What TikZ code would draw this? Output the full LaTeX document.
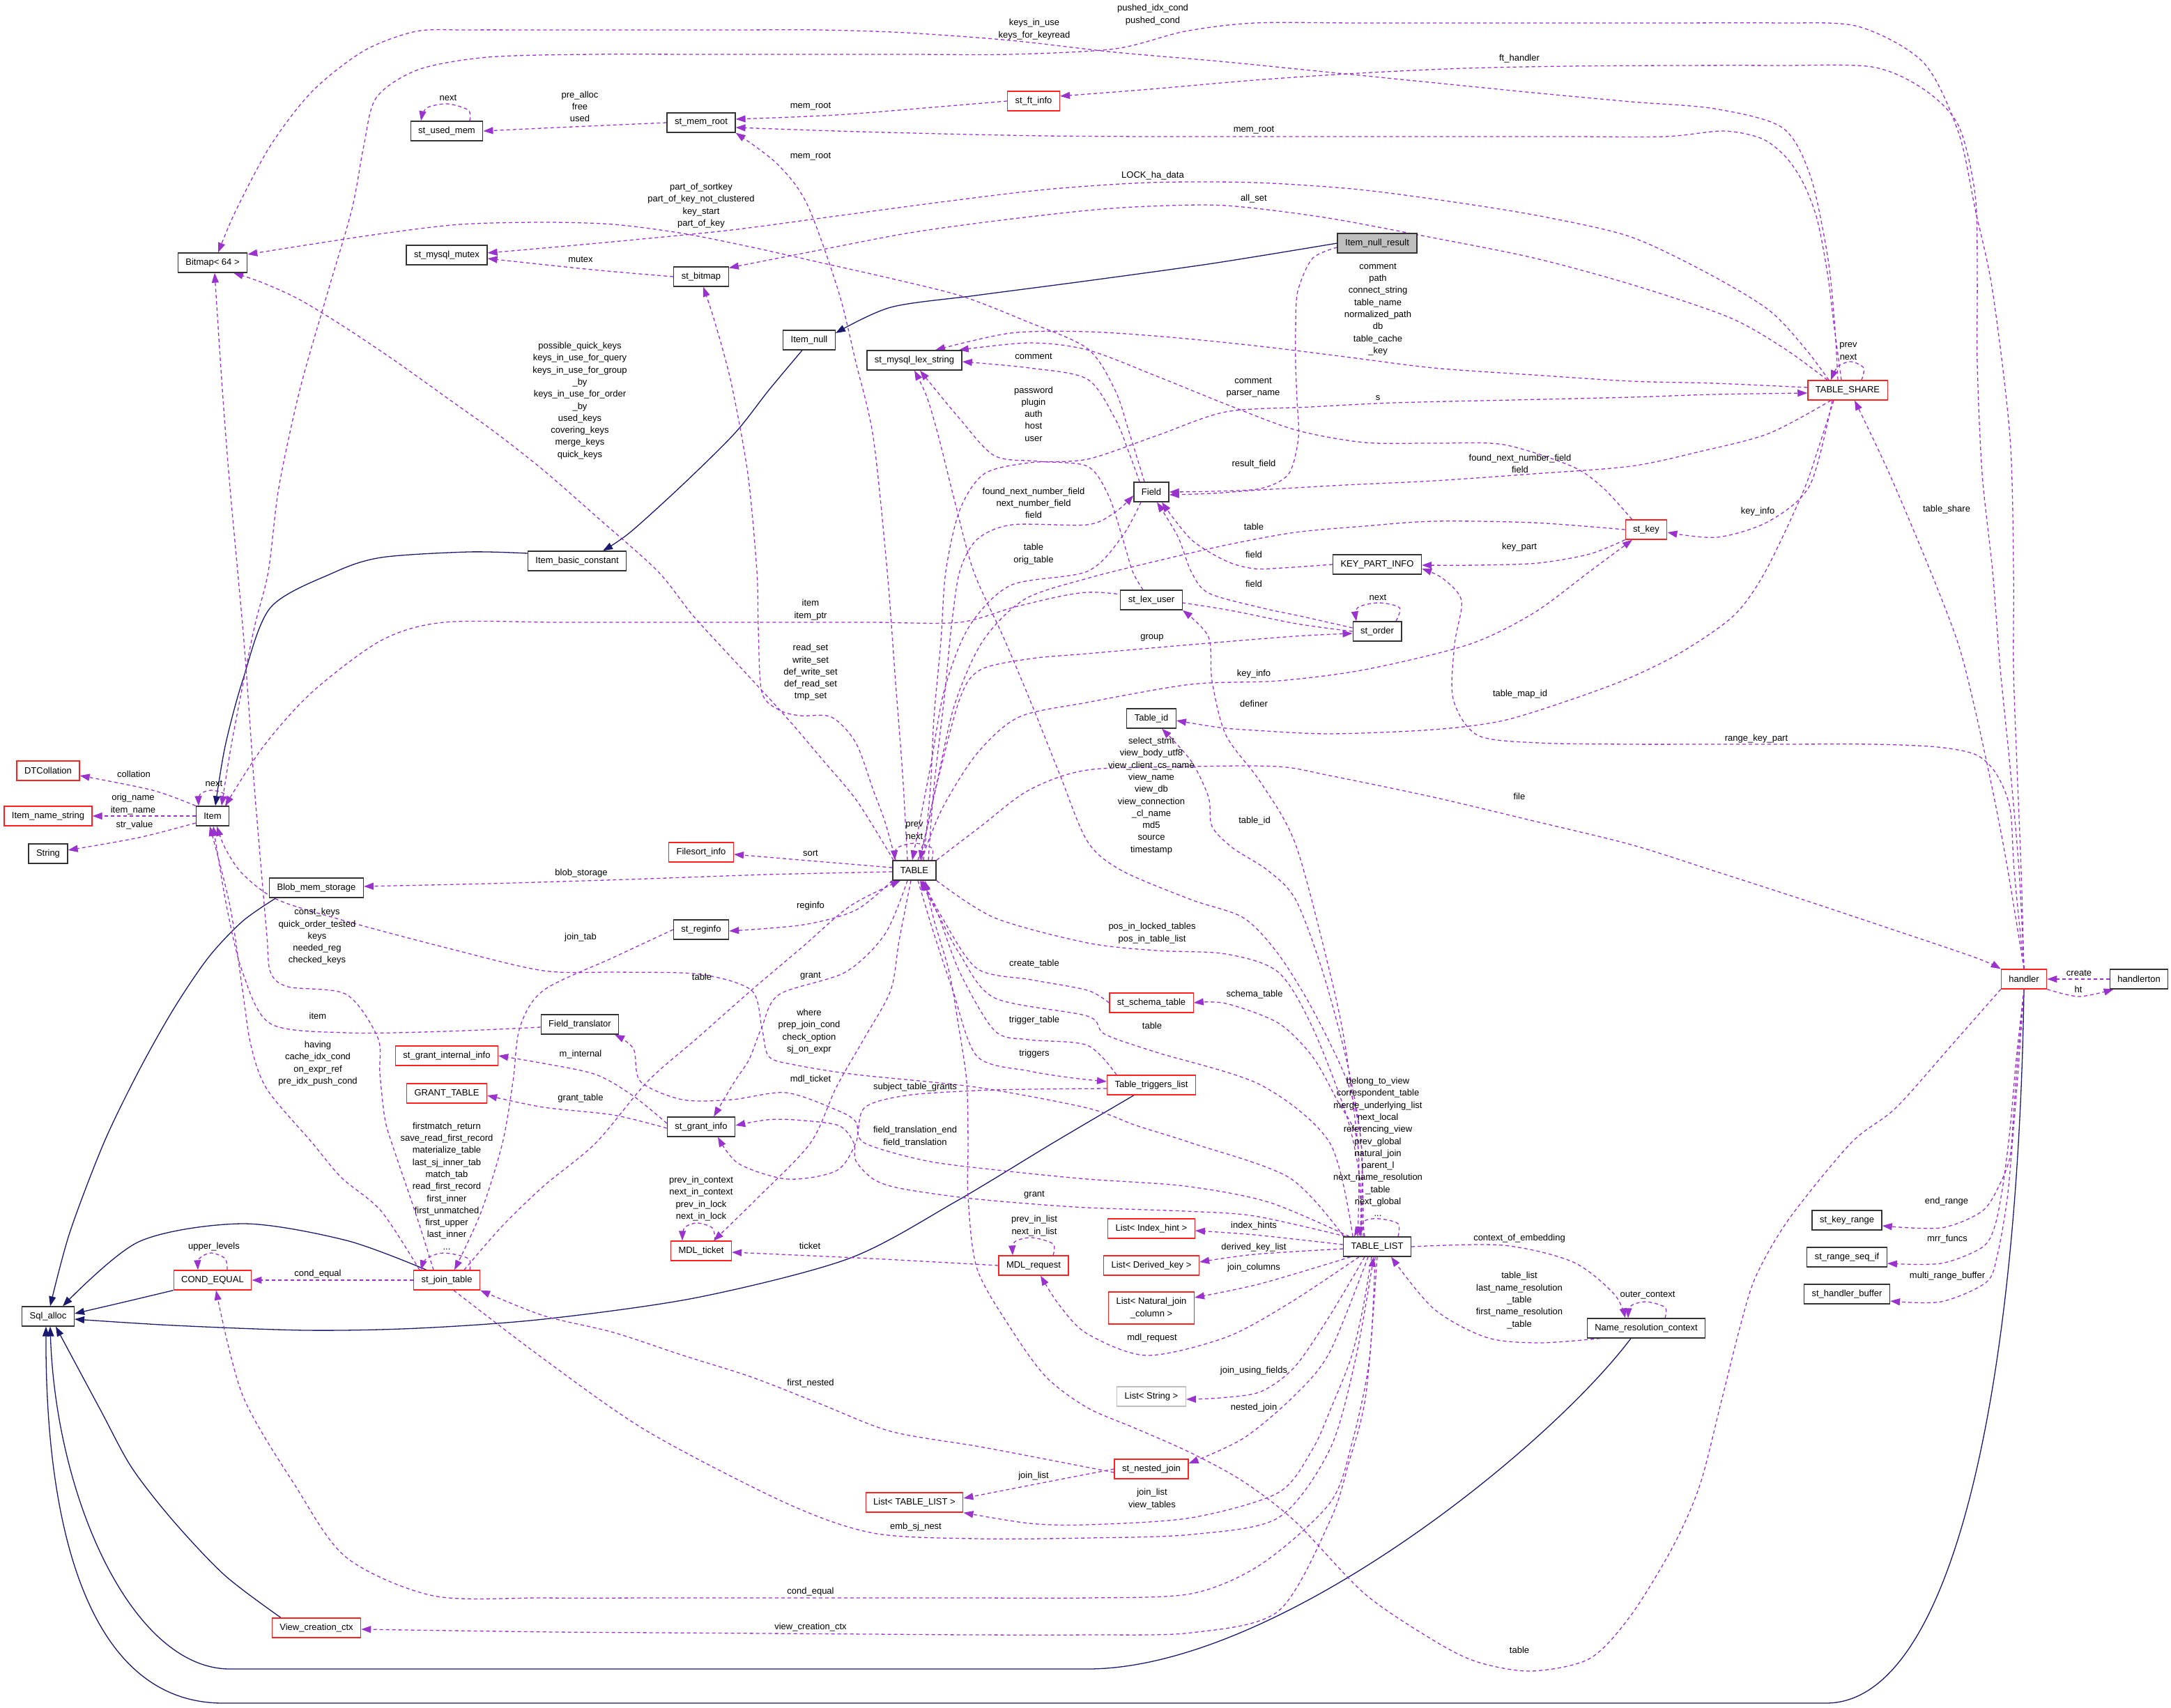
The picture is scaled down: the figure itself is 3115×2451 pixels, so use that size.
\documentclass[tikz,border=0pt]{standalone}
\usepackage{fontspec}
\setmainfont{Liberation Sans}
\usetikzlibrary{arrows.meta}
\pgfdeclarelayer{bg}
\pgfsetlayers{bg,main}
\definecolor{edgep}{HTML}{9A32CD}
\definecolor{edgeb}{HTML}{191970}
\definecolor{nred}{HTML}{FF2020}
\definecolor{ngray}{HTML}{BFBFBF}
\begin{document}
\begin{tikzpicture}[x=1pt,y=-1pt,font=\fontsize{13}{17.3}\selectfont,
  box/.style={draw=black!80,line width=1.3pt,fill=white,inner xsep=11pt,inner ysep=0pt,minimum height=28pt,align=center},
  rbox/.style={box,draw=nred},
  lbl/.style={inner sep=0pt,align=center},
  dep/.style={draw=edgep,line width=1.3pt,dash pattern=on 5pt off 4pt,-{Triangle[length=14pt,width=10pt]}},
  inh/.style={draw=edgeb,line width=1.3pt,-{Triangle[length=14pt,width=10pt]}},
  sm/.style={smooth,tension=0.5}]
\useasboundingbox (0,0) rectangle (3115,2451);
% ---------------- nodes
\node[box,fill=ngray] (INR) at (1976,349) {Item\_null\_result};
\node[box] (Inull) at (1161,488) {Item\_null};
\node[box] (IBC) at (828,805) {Item\_basic\_constant};
\node[box] (Item) at (305,1171) {Item};
\node[box] (Bitmap) at (305,377) {Bitmap< 64 >};
\node[box] (sum) at (641,188) {st\_used\_mem};
\node[box] (mutex) at (641,366) {st\_mysql\_mutex};
\node[box] (smr) at (1006,176) {st\_mem\_root};
\node[rbox] (sfi) at (1483,145) {st\_ft\_info};
\node[box] (sbm) at (1006,397) {st\_bitmap};
\node[box] (lex) at (1312,517) {st\_mysql\_lex\_string};
\node[rbox] (TS) at (2651,560) {TABLE\_SHARE};
\node[box] (Field) at (1652,706) {Field};
\node[rbox] (skey) at (2362,760) {st\_key};
\node[box] (KPI) at (1976,810) {KEY\_PART\_INFO};
\node[box] (slu) at (1652,861) {st\_lex\_user};
\node[box] (sord) at (1976,906) {st\_order};
\node[box] (Tid) at (1652,1031) {Table\_id};
\node[box] (TABLE) at (1312,1249) {TABLE};
\node[rbox] (FSI) at (1006,1223) {Filesort\_info};
\node[box] (sreg) at (1006,1334) {st\_reginfo};
\node[box] (BMS) at (454,1274) {Blob\_mem\_storage};
\node[rbox] (DTC) at (69,1106) {DTCollation};
\node[rbox] (INS) at (69,1171) {Item\_name\_string};
\node[box] (Str) at (69,1225) {String};
\node[box] (FT) at (832,1470) {Field\_translator};
\node[rbox] (sgii) at (641,1515) {st\_grant\_internal\_info};
\node[rbox] (GT) at (641,1569) {GRANT\_TABLE};
\node[box] (sgi) at (1006,1617) {st\_grant\_info};
\node[rbox] (sst) at (1652,1439) {st\_schema\_table};
\node[rbox] (TTL) at (1652,1557) {Table\_triggers\_list};
\node[rbox] (hdl) at (2904,1405) {handler};
\node[box] (hton) at (3069,1405) {handlerton};
\node[box] (Sql) at (69,1889) {Sql\_alloc};
\node[rbox] (COND) at (305,1837) {COND\_EQUAL};
\node[rbox] (sjt) at (641,1837) {st\_join\_table};
\node[rbox] (mdlt) at (1006,1795) {MDL\_ticket};
\node[rbox] (mdlr) at (1483,1816) {MDL\_request};
\node[box] (TL) at (1976,1789) {TABLE\_LIST};
\node[rbox] (LIH) at (1652,1763) {List< Index\_hint >};
\node[rbox] (LDK) at (1652,1816) {List< Derived\_key >};
\node[rbox,minimum height=46pt] (LNJ) at (1652,1877) {List< Natural\_join\\\_column >};
\node[box,draw=ngray] (LS) at (1652,2004) {List< String >};
\node[rbox] (snj) at (1652,2108) {st\_nested\_join};
\node[rbox] (LTL) at (1312,2156) {List< TABLE\_LIST >};
\node[rbox] (VCC) at (454,2336) {View\_creation\_ctx};
\node[box] (NRC) at (2362,1906) {Name\_resolution\_context};
\node[box] (skr) at (2650,1751) {st\_key\_range};
\node[box] (srsi) at (2650,1804) {st\_range\_seq\_if};
\node[box] (shb) at (2650,1857) {st\_handler\_buffer};
% ---------------- labels
\node[lbl] (L1) at (1654,21) {pushed\_idx\_cond\\pushed\_cond};
\node[lbl] (L2) at (1484,42) {keys\_in\_use\\keys\_for\_keyread};
\node[lbl] (L3) at (2180,84) {ft\_handler};
\node[lbl] (L4) at (643,140) {next};
\node[lbl] (L5) at (832,153) {pre\_alloc\\free\\used};
\node[lbl] (L6) at (1163,153) {mem\_root};
\node[lbl] (L7) at (1799,187) {mem\_root};
\node[lbl] (L8) at (1163,225) {mem\_root};
\node[lbl] (L9) at (1654,252) {LOCK\_ha\_data};
\node[lbl] (L10) at (1006,295) {part\_of\_sortkey\\part\_of\_key\_not\_clustered\\key\_start\\part\_of\_key};
\node[lbl] (L11) at (1799,285) {all\_set};
\node[lbl] (L12) at (833,372) {mutex};
\node[lbl] (L13) at (1977,444) {comment\\path\\connect\_string\\table\_name\\normalized\_path\\db\\table\_cache\\\_key};
\node[lbl] (L14) at (2652,504) {prev\\next};
\node[lbl] (L15) at (832,575) {possible\_quick\_keys\\keys\_in\_use\_for\_query\\keys\_in\_use\_for\_group\\\_by\\keys\_in\_use\_for\_order\\\_by\\used\_keys\\covering\_keys\\merge\_keys\\quick\_keys};
\node[lbl] (L16) at (1483,511) {comment};
\node[lbl] (L17) at (1798,556) {comment\\parser\_name};
\node[lbl] (L18) at (1977,571) {s};
\node[lbl] (L19) at (1483,594) {password\\plugin\\auth\\host\\user};
\node[lbl] (L20) at (1799,666) {result\_field};
\node[lbl] (L21) at (2181,665) {found\_next\_number\_field\\field};
\node[lbl] (L22) at (1483,722) {found\_next\_number\_field\\next\_number\_field\\field};
\node[lbl] (L23) at (2522,734) {key\_info};
\node[lbl] (L24) at (2793,731) {table\_share};
\node[lbl] (L25) at (1799,756) {table};
\node[lbl] (L26) at (1483,795) {table\\orig\_table};
\node[lbl] (L27) at (2180,785) {key\_part};
\node[lbl] (L28) at (1799,796) {field};
\node[lbl] (L29) at (1799,838) {field};
\node[lbl] (L30) at (1977,857) {next};
\node[lbl] (L31) at (1163,875) {item\\item\_ptr};
\node[lbl] (L32) at (1653,915) {group};
\node[lbl] (L33) at (1799,967) {key\_info};
\node[lbl] (L34) at (1163,965) {read\_set\\write\_set\\def\_write\_set\\def\_read\_set\\tmp\_set};
\node[lbl] (L35) at (2181,996) {table\_map\_id};
\node[lbl] (L36) at (1799,1010) {definer};
\node[lbl] (L37) at (2520,1060) {range\_key\_part};
\node[lbl] (L38) at (1652,1142) {select\_stmt\\view\_body\_utf8\\view\_client\_cs\_name\\view\_name\\view\_db\\view\_connection\\\_cl\_name\\md5\\source\\timestamp};
\node[lbl] (L39) at (2180,1143) {file};
\node[lbl] (L40) at (1800,1178) {table\_id};
\node[lbl] (L41) at (1312,1192) {prev\\next};
\node[lbl] (L42) at (1163,1224) {sort};
\node[lbl] (L43) at (834,1253) {blob\_storage};
\node[lbl] (L44) at (455,1344) {const\_keys\\quick\_order\_tested\\keys\\needed\_reg\\checked\_keys};
\node[lbl] (L45) at (1653,1339) {pos\_in\_locked\_tables\\pos\_in\_table\_list};
\node[lbl] (L46) at (1163,1300) {reginfo};
\node[lbl] (L47) at (833,1345) {join\_tab};
\node[lbl] (L48) at (1484,1383) {create\_table};
\node[lbl] (L49) at (1163,1401) {grant};
\node[lbl] (L50) at (1007,1402) {table};
\node[lbl] (L51) at (1800,1427) {schema\_table};
\node[lbl] (L52) at (456,1458) {item};
\node[lbl] (L53) at (1161,1480) {where\\prep\_join\_cond\\check\_option\\sj\_on\_expr};
\node[lbl] (L54) at (1484,1464) {trigger\_table};
\node[lbl] (L55) at (1653,1472) {table};
\node[lbl] (L56) at (456,1526) {having\\cache\_idx\_cond\\on\_expr\_ref\\pre\_idx\_push\_cond};
\node[lbl] (L57) at (1484,1512) {triggers};
\node[lbl] (L58) at (833,1513) {m\_internal};
\node[lbl] (L59) at (1163,1549) {mdl\_ticket};
\node[lbl] (L60) at (1313,1560) {subject\_table\_grants};
\node[lbl] (L61) at (1977,1646) {belong\_to\_view\\correspondent\_table\\merge\_underlying\_list\\next\_local\\referencing\_view\\prev\_global\\natural\_join\\parent\_l\\next\_name\_resolution\\\_table\\next\_global\\...};
\node[lbl] (L62) at (833,1576) {grant\_table};
\node[lbl] (L63) at (641,1702) {firstmatch\_return\\save\_read\_first\_record\\materialize\_table\\last\_sj\_inner\_tab\\match\_tab\\read\_first\_record\\first\_inner\\first\_unmatched\\first\_upper\\last\_inner\\...};
\node[lbl] (L64) at (1313,1631) {field\_translation\_end\\field\_translation};
\node[lbl] (L65) at (1006,1720) {prev\_in\_context\\next\_in\_context\\prev\_in\_lock\\next\_in\_lock};
\node[lbl] (L66) at (1484,1715) {grant};
\node[lbl] (L67) at (2793,1724) {end\_range};
\node[lbl] (L68) at (1484,1759) {prev\_in\_list\\next\_in\_list};
\node[lbl] (L69) at (1799,1759) {index\_hints};
\node[lbl] (L70) at (2180,1777) {context\_of\_embedding};
\node[lbl] (L71) at (2794,1778) {mrr\_funcs};
\node[lbl] (L72) at (1162,1788) {ticket};
\node[lbl] (L73) at (307,1789) {upper\_levels};
\node[lbl] (L74) at (1799,1790) {derived\_key\_list};
\node[lbl] (L75) at (1799,1819) {join\_columns};
\node[lbl] (L76) at (456,1828) {cond\_equal};
\node[lbl] (L77) at (2794,1831) {multi\_range\_buffer};
\node[lbl] (L78) at (2180,1866) {table\_list\\last\_name\_resolution\\\_table\\first\_name\_resolution\\\_table};
\node[lbl] (L79) at (2364,1859) {outer\_context};
\node[lbl] (L80) at (1653,1920) {mdl\_request};
\node[lbl] (L81) at (1799,1967) {join\_using\_fields};
\node[lbl] (L82) at (1163,1985) {first\_nested};
\node[lbl] (L83) at (1799,2020) {nested\_join};
\node[lbl] (L84) at (1483,2118) {join\_list};
\node[lbl] (L85) at (1653,2151) {join\_list\\view\_tables};
\node[lbl] (L86) at (1314,2191) {emb\_sj\_nest};
\node[lbl] (L87) at (1163,2284) {cond\_equal};
\node[lbl] (L88) at (1163,2335) {view\_creation\_ctx};
\node[lbl] (L89) at (2180,2368) {table};
\node[lbl] (L90) at (2983,1396) {create};
\node[lbl] (L91) at (2982,1420) {ht};
\node[lbl] (L92) at (192,1111) {collation};
\node[lbl] (L93) at (307,1124) {next};
\node[lbl] (L94) at (191,1154) {orig\_name\\item\_name};
\node[lbl] (L95) at (193,1184) {str\_value};
% ---------------- edges
\begin{pgfonlayer}{bg}
\fill[white] (0,0) rectangle (3115,2451);
% inheritance
\draw[inh] plot[sm] coordinates {(INR.west) (1740,378) (1560,403) (1400,424) (1278,441) ([yshift=10pt]Inull.east)};
\draw[inh] plot[sm] coordinates {([xshift=-10pt]Inull.south) (1103,560) (1054,622) (979,696) (904,764) ([xshift=37pt]IBC.north)};
\draw[inh] plot[sm] coordinates {([yshift=11pt]IBC.west) (672,792) (547,800) (478,822) (388,872) (348,977) (323,1071) ([xshift=4pt]Item.north)};
\draw[inh] plot[sm] coordinates {([xshift=-58pt]BMS.south) (348,1322) (299,1374) (249,1448) (199,1537) (149,1640) (100,1769) ([xshift=3pt]Sql.north)};
\draw[inh] plot[sm] coordinates {([xshift=-29pt]sjt.north) (497,1780) (348,1756) (199,1782) ([xshift=21pt]Sql.north)};
\draw[inh] plot[sm] coordinates {(COND.south west) (180,1868) ([yshift=4pt]Sql.east)};
\draw[inh] plot[sm] coordinates {([xshift=-25pt]TTL.south) (1511,1640) (1370,1725) (1218,1806) (1000,1862) (780,1893) (600,1906) (440,1909) (250,1902) ([yshift=-4pt]Sql.east)};
\draw[inh] plot[sm] coordinates {([xshift=-51pt]VCC.north) (323,2261) (249,2183) (189,2106) (144,2023) ([xshift=11pt]Sql.south)};
\draw[inh] ([xshift=-22pt]NRC.south) .. controls (2220,2080) and (1830,2395) .. (1560,2395) -- (330,2395) .. controls (190,2395) and (80,2150) .. ([xshift=3pt]Sql.south);
\draw[inh] (hdl.south) .. controls (2895,2000) and (2800,2444) .. (2620,2444) -- (320,2444) .. controls (130,2444) and (65,2200) .. ([xshift=-3pt]Sql.south);
% usage
\draw[dep] plot[sm] coordinates {(hdl.north) (2900,1250) (2894,1100) (2889,960) (2889,820) (2884,628) (2859,418) (2834,300) (2810,190) (2760,90) (2666,38) (2550,33) (2400,33) (2250,33) (2100,33) (1950,33) (1800,33) (1700,45) (1600,70) (1450,78) (1300,78) (1150,78) (1000,78) (850,78) (700,82) (600,100) (540,140) (522,209) (505,300) (470,420) (430,560) (400,700) (385,820) (365,900) (345,1000) (330,1080) ([xshift=13pt]Item.north)};
\draw[dep] plot[sm] coordinates {(hdl.north) (2897,1250) (2884,1100) (2870,960) (2859,820) (2844,680) (2837,523) (2837,400) (2834,280) (2810,180) (2760,128) (2686,96) (2550,94) (2400,94) (2250,95) (2100,98) (1950,105) (1800,115) (1650,128) ([yshift=7pt]sfi.east)};
\draw[dep] plot[sm] coordinates {(hdl.north) (2879,1238) (2859,1134) (2834,1019) (2810,925) (2770,820) (2711,680) ([xshift=10pt]TS.south)};
\draw[dep] plot[sm] coordinates {(hdl.north) (2890,1250) (2884,1160) (2864,1110) (2835,1083) (2780,1072) (2686,1068) (2550,1068) (2440,1068) (2340,1068) (2207,1066) (2120,1055) (2085,1003) (2087,925) (2097,862) (2070,830) ([yshift=-6pt]KPI.east)};
\draw[dep] plot[sm] coordinates {(hdl.south) (2895,1520) (2889,1600) (2884,1660) (2869,1700) (2844,1738) (2785,1762) ([yshift=-8pt]skr.east)};
\draw[dep] plot[sm] coordinates {(hdl.south) (2893,1520) (2884,1620) (2874,1700) (2862,1760) (2844,1790) (2785,1813) ([yshift=-9pt]srsi.east)};
\draw[dep] plot[sm] coordinates {(hdl.south) (2897,1520) (2889,1620) (2880,1720) (2866,1800) (2850,1840) (2785,1868) ([yshift=-10pt]shb.east)};
\draw[dep] (hton.west) -- (hdl.east);
\draw[dep] plot[sm] coordinates {(hdl.south east) (2983,1430) ([xshift=6pt]hton.south west)};
\draw[dep] plot[sm] coordinates {(TABLE.north east) (1407,1186) (1476,1134) (1560,1105) (1709,1100) (1834,1100) (1908,1113) (2057,1144) (2200,1178) (2340,1212) (2460,1250) (2587,1291) (2710,1332) (2834,1374) (hdl.north west)};
\draw[dep] plot[sm] coordinates {(hdl.south west) (2800,1500) (2720,1590) (2656,1640) (2567,1749) (2520,1830) (2498,1899) (2470,2010) (2439,2131) (2400,2220) (2340,2318) (2281,2380) (2197,2398) (2120,2385) (2057,2354) (1958,2287) (1858,2183) (1784,2126) (1709,2085) (1630,2050) (1560,2020) (1501,1976) (1452,1909) (1402,1821) (1389,1718) (1389,1640) (1387,1552) (1375,1470) (1362,1395) (1340,1320) ([xshift=15pt]TABLE.south)};
\draw[dep] plot[sm] coordinates {([xshift=20pt]TS.north) (2674,528) (2656,519) (2637,526) ([xshift=-24pt]TS.north)};
\draw[dep] plot[sm] coordinates {([xshift=-14pt]TS.north) (2632,460) (2622,366) (2597,251) (2557,183) (2460,156) (2340,146) (2200,133) (2050,118) (1900,103) (1750,88) (1600,75) (1450,58) (1300,47) (1178,43) (1050,43) (920,43) (780,43) (670,43) (597,45) (522,73) (448,131) (388,209) (338,303) ([xshift=8pt]Bitmap.north)};
\draw[dep] plot[sm] coordinates {([xshift=-9pt]TS.north) (2632,471) (2622,392) (2607,314) (2587,262) (2562,225) (2528,199) (2473,188) (2389,196) (2250,196) (2100,196) (1950,196) (1800,196) (1650,196) (1500,195) (1350,192) (1200,188) ([yshift=-7pt]smr.east)};
\draw[dep] plot[sm] coordinates {(sfi.west) (1350,153) (1200,165) ([yshift=5pt]smr.east)};
\draw[dep] plot[sm] coordinates {(smr.west) (800,183) (sum.east)};
\draw[dep] plot[sm] coordinates {([xshift=33pt]sum.north) (672,158) (642,149) (612,155) ([xshift=-37pt]sum.north)};
\draw[dep] plot[sm] coordinates {([xshift=-10pt]TABLE.north) (1295,1110) (1285,980) (1273,820) (1253,628) (1228,520) (1203,418) (1158,293) (1115,235) (smr.south east)};
\draw[dep] plot[sm] coordinates {([xshift=-27pt]TS.north) (2590,500) (2538,445) (2450,392) (2340,340) (2220,312) (2100,292) (1950,272) (1800,262) (1650,262) (1500,272) (1350,290) (1200,310) (1050,330) (900,345) (780,356) ([yshift=3pt]mutex.east)};
\draw[dep] plot[sm] coordinates {(sbm.west) (850,387) ([yshift=-5pt]mutex.east)};
\draw[dep] plot[sm] coordinates {([xshift=-29pt]TS.north) (2560,500) (2480,455) (2340,408) (2200,370) (2050,340) (1900,312) (1759,295) (1650,296) (1560,302) (1420,318) (1300,335) (1170,360) ([yshift=-2pt]sbm.north east)};
\draw[dep] plot[sm] coordinates {([xshift=-10pt]Field.north) (1620,620) (1600,560) (1560,500) (1470,460) (1380,425) (1280,400) (1178,377) (1080,355) (980,335) (880,322) (780,319) (660,322) (550,335) (450,350) ([yshift=12pt]Bitmap.east)};
\draw[dep] plot[sm] coordinates {([xshift=-30pt]TABLE.north) (1230,1150) (1180,1090) (1128,1029) (1060,955) (994,883) (944,820) (860,745) (780,675) (710,620) (647,575) (570,520) (497,471) (430,430) (375,405) ([xshift=30pt]Bitmap.south)};
\draw[dep] plot[sm] coordinates {([xshift=-19pt]sjt.north) (597,1743) (562,1640) (552,1604) (545,1540) (542,1489) (497,1427) (413,1416) (388,1395) (383,1343) (375,1250) (365,1130) (358,1029) (350,920) (341,820) (330,700) (322,600) (315,500) ([xshift=3pt]Bitmap.south)};
\draw[dep] plot[sm] coordinates {([yshift=-6pt]INR.west) (1883,371) (1862,418) (1859,470) (1859,523) (1861,575) (1863,628) (1849,680) (1809,701) (1740,705) (Field.east)};
\draw[dep] plot[sm] coordinates {([xshift=-24pt]TS.south) (2538,622) (2439,648) (2340,669) (2200,680) (2057,690) (1930,696) (1809,703) (1740,708) ([yshift=-4pt]Field.east)};
\draw[dep] plot[sm] coordinates {([yshift=4pt]TS.west) (2460,550) (2340,547) (2200,538) (2057,528) (1930,512) (1809,497) (1680,484) (1560,476) (1450,478) ([xshift=30pt]lex.north)};
\draw[dep] plot[sm] coordinates {([xshift=13pt]TABLE.north) (1335,1130) (1340,1030) (1350,920) (1357,820) (1377,732) (1412,680) (1477,664) (1560,659) (1660,625) (1759,591) (1880,584) (2000,578) (2170,574) (2340,570) (2460,566) ([yshift=-4pt]TS.west)};
\draw[dep] plot[sm] coordinates {([xshift=-17pt]Field.north) (1620,650) (1600,601) (1560,544) (1477,528) ([yshift=-2pt]lex.east)};
\draw[dep] plot[sm] coordinates {([xshift=10pt]skey.north west) (2300,700) (2255,669) (2157,638) (2058,636) (1958,635) (1859,617) (1759,580) (1660,540) (1560,502) (1477,492) ([xshift=-5pt]lex.north east)};
\draw[dep] plot[sm] coordinates {([xshift=-12pt]slu.north) (1625,820) (1610,770) (1590,710) (1560,669) (1490,662) (1427,654) (1377,601) ([xshift=8pt]lex.south)};
\draw[dep] plot[sm] coordinates {([xshift=-20pt]TL.north) (1953,1640) (1933,1552) (1883,1448) (1834,1369) (1784,1317) (1709,1291) (1609,1249) (1560,1207) (1520,1110) (1480,1010) (1440,915) (1397,820) (1370,720) (1347,628) (1330,570) (lex.south)};
\draw[dep] plot[sm] coordinates {([xshift=20pt]TABLE.north) (1340,1130) (1355,1000) (1365,900) (1377,820) (1402,774) (1452,753) (1560,753) (1600,735) ([yshift=-5pt]Field.west)};
\draw[dep] plot[sm] coordinates {([xshift=-15pt]Field.south) (1610,770) (1560,820) (1450,840) (1390,900) (1355,990) (1335,1100) ([xshift=-3pt]TABLE.north)};
\draw[dep] plot[sm] coordinates {(skey.west) (2200,750) (2057,748) (1958,755) (1858,764) (1760,782) (1660,805) (1560,830) (1470,860) (1410,920) (1370,1010) (1345,1120) ([xshift=8pt]TABLE.north)};
\draw[dep] plot[sm] coordinates {([xshift=-22pt]TS.south) (2597,696) (2538,748) (2464,771) ([yshift=-4pt]skey.east)};
\draw[dep] plot[sm] coordinates {(skey.south west) (2281,795) (2207,808) (2120,811) ([yshift=-1pt]KPI.east)};
\draw[dep] plot[sm] coordinates {(KPI.west) (1840,815) (1799,816) (1759,805) (1709,774) ([xshift=15pt]Field.south)};
\draw[dep] plot[sm] coordinates {([yshift=5pt]sord.west) (1870,885) (1809,872) (1734,851) (1709,820) (1690,770) ([xshift=8pt]Field.south)};
\draw[dep] plot[sm] coordinates {([xshift=27pt]sord.north) (2008,872) (1978,865) (1948,872) ([xshift=-30pt]sord.north)};
\draw[dep] plot[sm] coordinates {(sord.west) (1860,895) (1760,875) (1660,860) (1560,850) (1460,870) (1377,893) (1250,893) (1100,893) (950,893) (800,893) (637,893) (547,919) (448,993) (378,1071) ([xshift=18pt]Item.north)};
\draw[dep] plot[sm] coordinates {([xshift=5pt]TABLE.north) (1330,1190) (1342,1134) (1377,1003) (1407,961) (1480,945) (1560,938) (1709,925) (1858,913) ([yshift=-3pt]sord.west)};
\draw[dep] plot[sm] coordinates {([xshift=10pt]TABLE.north) (1352,1160) (1402,1081) (1462,1029) (1560,1008) (1709,982) (1834,977) (1958,961) (2107,925) (2200,880) (2281,820) ([xshift=-20pt]skey.south)};
\draw[dep] plot[sm] coordinates {([xshift=-27pt]TABLE.north) (1270,1180) (1253,1134) (1228,1066) (1193,1029) (1148,1027) (1118,1019) (1093,993) (1088,900) (1086,820) (1073,680) (1049,549) (1025,460) ([xshift=3pt]sbm.south)};
\draw[dep] plot[sm] coordinates {([xshift=-20pt]TS.south) (2610,640) (2587,706) (2533,820) (2488,883) (2414,935) (2340,972) (2257,1003) (2157,1034) (2057,1047) (1908,1053) (1800,1048) (1750,1044) ([yshift=-3pt]Tid.east)};
\draw[dep] plot[sm] coordinates {([xshift=-18pt]TL.north) (1950,1700) (1948,1640) (1930,1500) (1908,1395) (1859,1212) (1809,1123) (1759,1055) (1739,977) (1734,914) (slu.south east)};
\draw[dep] plot[sm] coordinates {([xshift=-23pt]TL.north) (1953,1640) (1933,1526) (1898,1395) (1859,1291) (1819,1249) (1769,1217) (1739,1186) (1734,1144) (1709,1092) ([xshift=15pt]Tid.south)};
\draw[dep] plot[sm] coordinates {([xshift=25pt]TABLE.north) (1337,1217) (1312,1210) (1287,1217) ([xshift=-28pt]TABLE.north)};
\draw[dep] plot[sm] coordinates {([yshift=4pt]TABLE.west) (1160,1235) ([yshift=-3pt]FSI.east)};
\draw[dep] plot[sm] coordinates {([yshift=-2pt]TABLE.west) (1100,1255) (900,1262) (700,1268) ([yshift=2pt]BMS.east)};
\draw[dep] plot[sm] coordinates {(TABLE.south west) (1228,1306) (1153,1327) ([yshift=-2pt]sreg.east)};
\draw[dep] plot[sm] coordinates {(sreg.west) (880,1374) (780,1421) (746,1474) (736,1552) (721,1640) (690,1740) ([xshift=11pt]sjt.north)};
\draw[dep] plot[sm] coordinates {([xshift=25pt]sjt.north) (720,1760) (780,1702) (855,1640) (929,1552) (1000,1490) (1078,1421) (1150,1360) (1220,1300) ([xshift=-20pt]TABLE.south)};
\draw[dep] plot[sm] coordinates {([xshift=-10pt]TABLE.south) (1270,1340) (1213,1395) (1118,1427) (1093,1474) (1075,1520) (1054,1552) ([xshift=18pt]sgi.north)};
\draw[dep] plot[sm] coordinates {([yshift=5pt]sgi.west) (909,1573) (855,1542) (780,1526) (sgii.east)};
\draw[dep] plot[sm] coordinates {([yshift=-2pt]sgi.west) (880,1600) (780,1589) ([yshift=-3pt]GT.east)};
\draw[dep] plot[sm] coordinates {([xshift=-5pt]TABLE.south) (1290,1350) (1278,1421) (1240,1490) (1200,1560) (1163,1640) (1088,1718) ([xshift=18pt]mdlt.north)};
\draw[dep] plot[sm] coordinates {(mdlr.west) (1250,1806) ([yshift=-2pt]mdlt.east)};
\draw[dep] plot[sm] coordinates {([xshift=20pt]mdlt.north) (1022,1762) (1000,1755) (982,1762) ([xshift=-27pt]mdlt.north)};
\draw[dep] plot[sm] coordinates {([xshift=28pt]mdlr.north) (1511,1785) (1481,1776) (1456,1782) ([xshift=-30pt]mdlr.north)};
\draw[dep] plot[sm] coordinates {([xshift=-26pt]TL.south) (1850,1870) (1759,1919) (1645,1945) (1560,1914) (1520,1873) ([xshift=10pt]mdlr.south)};
\draw[dep] plot[sm] coordinates {([yshift=3pt]TL.west) (1800,1772) ([yshift=-3pt]LIH.east)};
\draw[dep] plot[sm] coordinates {([yshift=-3pt]TL.west) (1800,1800) ([yshift=5pt]LDK.east)};
\draw[dep] plot[sm] coordinates {([xshift=-38pt]TL.south) (1809,1842) ([yshift=15pt]LNJ.east)};
\draw[dep] plot[sm] coordinates {([xshift=-18pt]TL.south) (1908,1888) (1858,1961) (1809,1997) (1750,2006) ([yshift=-4pt]LS.east)};
\draw[dep] plot[sm] coordinates {([xshift=-13pt]TL.south) (1908,1940) (1858,2002) (1784,2064) ([yshift=8pt]snj.east)};
\draw[dep] plot[sm] coordinates {(snj.west) (1500,2127) ([yshift=6pt]LTL.east)};
\draw[dep] plot[sm] coordinates {([xshift=-8pt]TL.south) (1955,1880) (1938,1950) (1910,2020) (1883,2080) (1834,2142) (1709,2178) (1560,2188) (1477,2186) (LTL.south east)};
\draw[dep] plot[sm] coordinates {([yshift=-5pt]snj.west) (1480,2090) (1400,2075) (1278,2054) (1178,2015) (1078,1976) (980,1945) (880,1912) (780,1888) (sjt.south east)};
\draw[dep] plot[sm] coordinates {([xshift=10pt]sjt.south) (780,1950) (929,2054) (1128,2157) (1253,2200) (1400,2208) (1560,2207) (1709,2202) (1834,2178) (1908,2080) (1945,1950) ([xshift=-5pt]TL.south)};
\draw[dep] plot[sm] coordinates {([xshift=-3pt]TL.south) (1965,1950) (1940,2070) (1908,2157) (1809,2245) (1709,2287) (1560,2293) (1400,2293) (1250,2293) (1100,2293) (950,2293) (780,2293) (622,2290) (497,2235) (423,2131) (348,2002) ([xshift=5pt]COND.south)};
\draw[dep] plot[sm] coordinates {(TL.south) (1960,2000) (1935,2100) (1908,2183) (1834,2312) (1709,2343) (1560,2346) (1400,2346) (1250,2345) (1100,2344) (950,2343) (800,2342) (650,2340) ([yshift=-2pt]VCC.east)};
\draw[dep] plot[sm] coordinates {(TL.east) (2157,1787) (2257,1811) (2316,1857) ([xshift=-30pt]NRC.north)};
\draw[dep] plot[sm] coordinates {([xshift=-66pt]NRC.south) (2207,1927) (2132,1919) (2057,1878) ([xshift=20pt]TL.south)};
\draw[dep] plot[sm] coordinates {([xshift=27pt]NRC.north) (2389,1876) (2362,1868) (2340,1874) ([xshift=-26pt]NRC.north)};
\draw[dep] plot[sm] coordinates {(TABLE.south east) (1427,1317) (1560,1353) (1659,1364) (1759,1369) (1834,1395) (1883,1474) (1933,1604) (1952,1700) ([xshift=-25pt]TL.north)};
\draw[dep] plot[sm] coordinates {([xshift=-35pt]TL.north) (1908,1640) (1809,1557) (1659,1510) (1585,1484) (1560,1458) (1427,1432) (1377,1369) (1345,1310) ([xshift=8pt]TABLE.south)};
\draw[dep] plot[sm] coordinates {([xshift=30pt]TL.north) (2006,1756) (1980,1749) (1958,1752) ([xshift=-33pt]TL.north)};
\draw[dep] plot[sm] coordinates {([xshift=-28pt]TL.north) (1948,1640) (1918,1578) (1883,1516) (1834,1468) (1759,1440) (sst.east)};
\draw[dep] plot[sm] coordinates {(sst.west) (1560,1421) (1480,1406) (1402,1390) (1352,1317) ([xshift=12pt]TABLE.south)};
\draw[dep] plot[sm] coordinates {([xshift=-50pt]TTL.north) (1560,1500) (1476,1492) (1427,1479) (1377,1395) (1345,1310) ([xshift=10pt]TABLE.south)};
\draw[dep] plot[sm] coordinates {([xshift=5pt]TABLE.south) (1340,1340) (1367,1421) (1402,1516) (1477,1537) (1540,1547) ([yshift=5pt]TTL.west)};
\draw[dep] plot[sm] coordinates {([yshift=-5pt]TTL.west) (1480,1563) (1400,1565) (1300,1572) (1240,1590) (1228,1640) (1200,1680) (1130,1692) (1060,1670) ([xshift=24pt]sgi.south)};
\draw[dep] plot[sm] coordinates {([xshift=-40pt]TL.north) (1820,1725) (1700,1702) (1560,1692) (1440,1680) (1330,1666) (1240,1640) (1228,1610) (1203,1594) (1128,1568) (1050,1578) (979,1578) (919,1552) (909,1505) ([xshift=50pt]FT.south)};
\draw[dep] plot[sm] coordinates {([xshift=-45pt]TL.north) (1800,1745) (1700,1738) (1560,1733) (1460,1726) (1377,1718) (1290,1705) (1253,1692) (1228,1666) (1225,1640) (1203,1615) (1140,1607) (1100,1607) ([yshift=2pt]sgi.east)};
\draw[dep] plot[sm] coordinates {([xshift=-48pt]TL.north) (1850,1690) (1709,1640) (1630,1615) (1560,1590) (1400,1560) (1228,1542) (1140,1528) (1103,1516) (1093,1474) (1078,1421) (1004,1398) (890,1395) (780,1393) (640,1360) (497,1322) (398,1291) (348,1254) (323,1217) ([xshift=6pt]Item.south)};
\draw[dep] plot[sm] coordinates {([yshift=-4pt]FT.west) (640,1480) (497,1482) (388,1469) (348,1395) (325,1300) ([xshift=1pt]Item.south)};
\draw[dep] plot[sm] coordinates {([xshift=-39pt]sjt.north) (547,1738) (490,1690) (448,1640) (383,1563) (360,1500) (348,1421) (330,1300) ([xshift=-4pt]Item.south)};
\draw[dep] (sjt.west) -- (COND.east);
\draw[dep] plot[sm] coordinates {([xshift=21pt]COND.north) (323,1806) (303,1798) (286,1806) ([xshift=-21pt]COND.north)};
\draw[dep] plot[sm] coordinates {([xshift=33pt]sjt.north) (672,1806) (637,1798) (612,1806) ([xshift=-37pt]sjt.north)};
\draw[dep] plot[sm] coordinates {([xshift=20pt]Item.north) (323,1140) (303,1134) (287,1140) ([xshift=-20pt]Item.north)};
\draw[dep] plot[sm] coordinates {(Item.north west) (219,1134) ([yshift=-7pt]DTC.east)};
\draw[dep] (Item.west) -- (INS.east);
\draw[dep] plot[sm] coordinates {([yshift=-10pt]Item.west) (199,1202) ([yshift=5pt]Str.east)};
\end{pgfonlayer}
\end{tikzpicture}
\end{document}
